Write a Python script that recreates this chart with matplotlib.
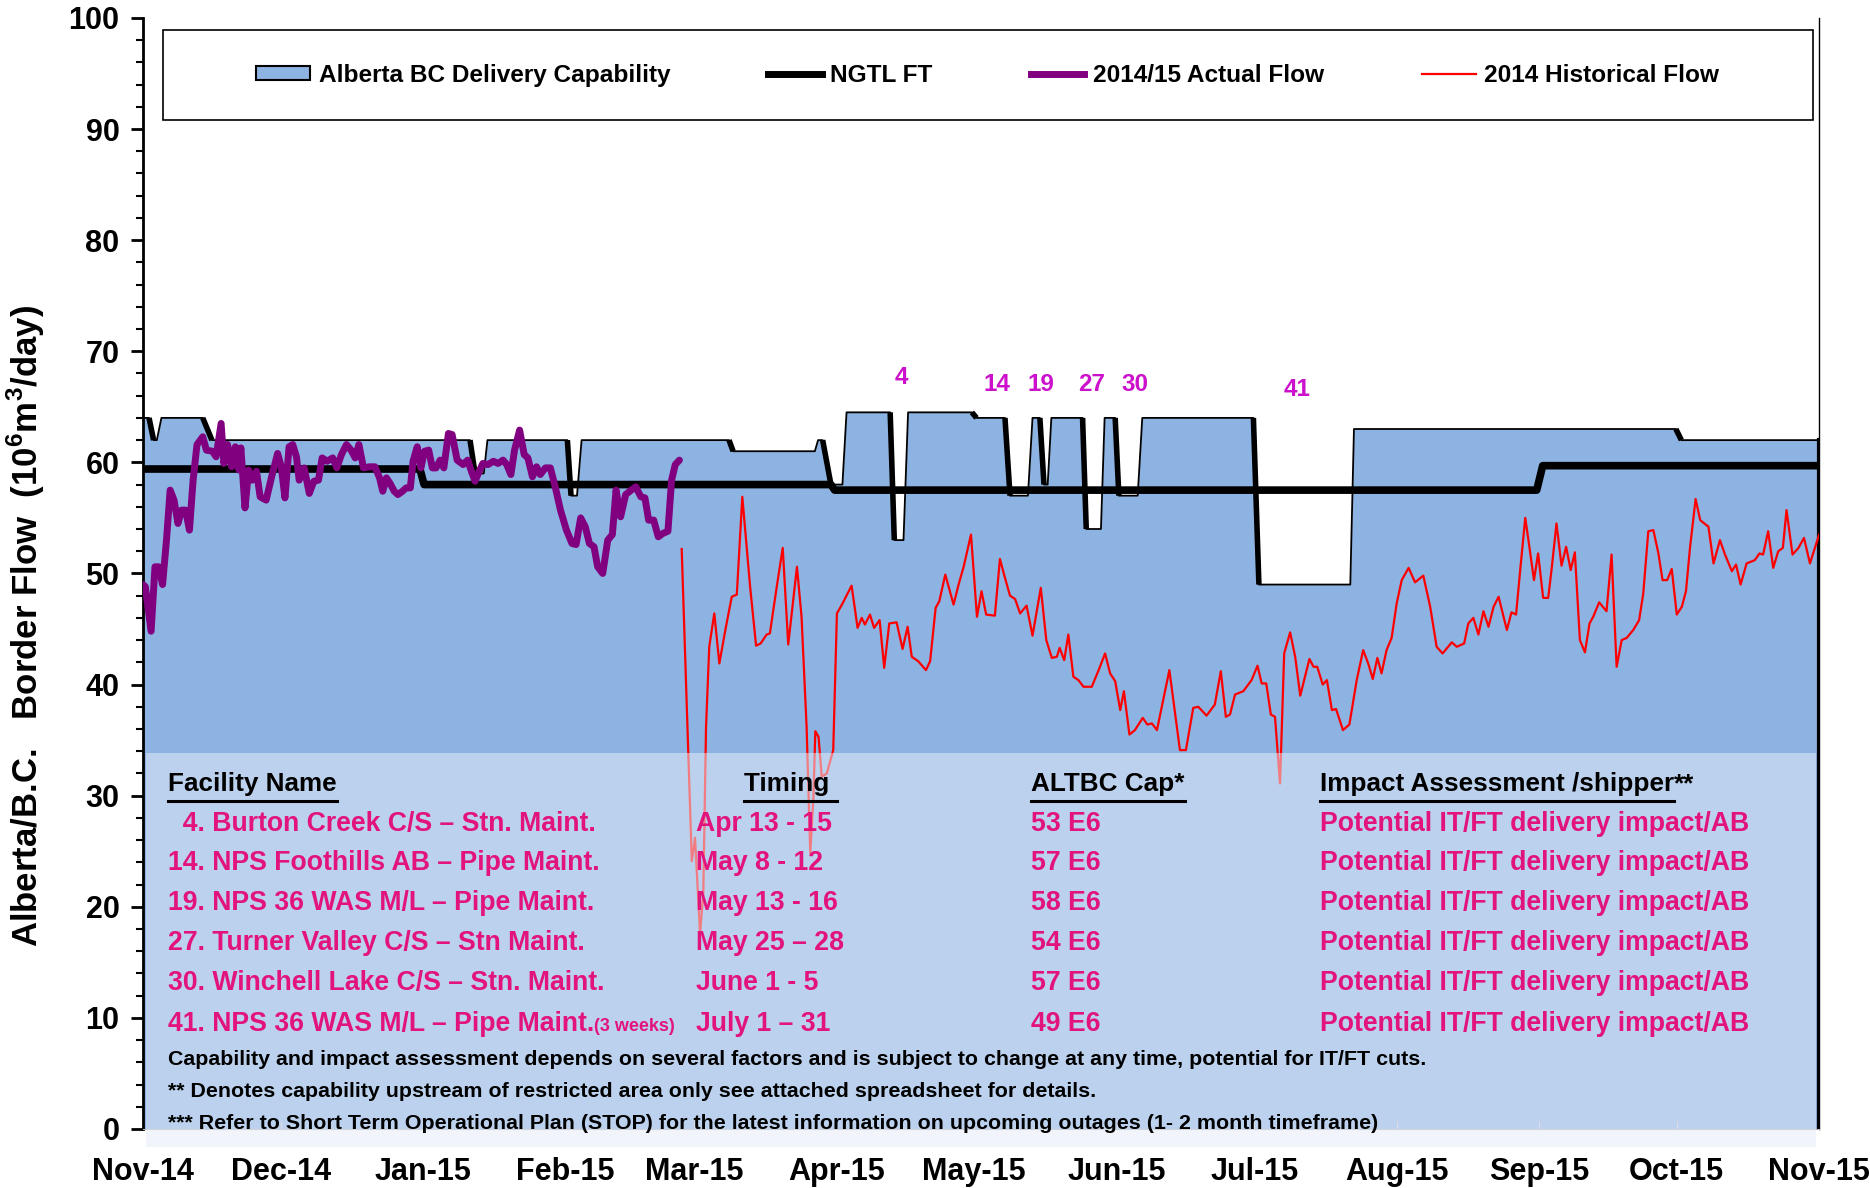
import numpy as np
import pandas as pd
import matplotlib
matplotlib.use('Agg')
import matplotlib.pyplot as plt
import matplotlib.dates as mdates
from matplotlib.patches import Patch, Rectangle
from matplotlib.lines import Line2D
from matplotlib.collections import LineCollection

plt.rcParams['font.family'] = 'Liberation Sans'
plt.rcParams['font.weight'] = 'bold'
plt.rcParams['mathtext.fontset'] = 'custom'
plt.rcParams['mathtext.rm'] = 'Liberation Sans:bold'
plt.rcParams['mathtext.bf'] = 'Liberation Sans:bold'

# days are counted from Nov 1 2014
start = '2014-11-01'

cap_days = [0, 1.3, 2.3, 3.0, 4.0, 13, 15, 71.2, 72.3, 74.2, 75, 92.4, 93.2, 94.5, 95.5,
            127.6, 128.5, 146.3, 147.0, 148.0, 149.8, 152.3, 153.2, 162.7, 163.6, 165.6,
            166.6, 180.5, 181.5, 187.7, 188.8, 192.7, 193.7, 195.3, 196.2, 197.0, 197.8,
            204.6, 205.4, 208.6, 209.4, 211.7, 212.5, 216.6, 217.6, 241.8, 243.0, 262.9,
            263.7, 333.8, 335.0, 365]
cap_vals = [64, 64, 62, 62, 64, 64, 62, 62, 59, 59, 62, 62, 57, 57, 62,
            62, 61, 61, 62, 62, 58, 58, 64.5, 64.5, 53, 53,
            64.5, 64.5, 64, 64, 57, 57, 64, 64, 58, 58, 64,
            64, 54, 54, 64, 64, 57, 57, 64, 64, 49, 49,
            63, 63, 62, 62]

ngtl_days = [0, 60.3, 61.2, 149.8, 150.6, 303.5, 304.8, 365]
ngtl_vals = [59.4, 59.4, 58.0, 58.0, 57.5, 57.5, 59.7, 59.7]

actual_days = [0.0, 0.5, 1.75, 2.6, 3.4, 4.25, 5.1, 5.9, 6.75, 7.6, 8.4, 9.25, 10.1, 10.9,
               11.75, 13.0, 13.8, 15.1, 15.9, 17.0, 17.6, 18.4, 19.3, 20.1, 20.9, 21.3,
               22.2, 23.0, 23.8, 24.7, 25.5, 26.8, 28.0, 29.3, 30.1, 30.9, 31.8, 32.6,
               33.4, 34.0, 35.1, 36.2, 37.2, 38.2, 39.0, 40.1, 41.3, 42.2, 43.2, 44.3,
               45.3, 46.2, 47.0, 48.0, 49.3, 50.5, 51.5, 52.2, 53.0, 53.8, 54.7, 55.5,
               56.5, 57.3, 58.2, 58.8, 59.7, 60.5, 61.3, 62.2, 63.0, 63.8, 64.7, 65.5,
               66.5, 67.3, 68.4, 69.7, 70.7, 71.5, 72.3, 73.2, 74.0, 75.1, 76.3, 77.3,
               78.4, 79.2, 80.1, 80.9, 82.0, 83.0, 83.8, 84.8, 85.7, 86.5, 87.6, 88.7,
               89.7, 90.9, 92.2, 93.4, 94.3, 95.3, 96.3, 97.2, 98.2, 99.0, 100.1, 101.2,
               102.2, 103.0, 104.0, 105.1, 106.3, 107.3, 108.4, 109.3, 110.1, 111.2,
               112.2, 113.2, 114.3, 115.1, 115.9, 116.8]
actual_vals = [49.0, 48.8, 44.8, 50.6, 50.6, 49.0, 53.0, 57.5, 56.6, 54.5, 55.7, 55.7, 53.9, 58.4,
               61.6, 62.3, 61.1, 61.0, 60.5, 63.5, 59.9, 61.6, 59.6, 61.4, 59.3, 61.3,
               55.9, 59.3, 58.4, 59.2, 56.9, 56.6, 58.7, 60.8, 59.6, 56.8, 61.4, 61.6,
               60.5, 58.4, 59.5, 57.2, 58.3, 58.4, 60.4, 60.1, 60.4, 59.5, 60.7, 61.6,
               61.1, 60.4, 61.6, 59.5, 59.6, 59.6, 58.6, 57.4, 58.6, 58.1, 57.4, 57.1,
               57.4, 57.7, 57.7, 60.1, 61.4, 59.5, 61.0, 61.1, 59.5, 59.5, 60.2, 59.5,
               62.6, 62.5, 60.2, 59.8, 60.2, 59.2, 58.3, 59.2, 59.9, 59.8, 60.1, 59.9,
               60.2, 59.8, 58.9, 61.1, 62.9, 60.7, 60.4, 58.7, 59.6, 58.9, 59.5, 59.5,
               57.9, 55.7, 53.9, 52.7, 52.6, 55.0, 54.2, 52.7, 52.4, 50.6, 50.0, 53.0,
               53.5, 57.5, 55.1, 57.1, 57.5, 57.8, 56.9, 56.8, 54.8, 54.8,
               53.3, 53.6, 53.8, 58.4, 59.8, 60.2]

hist_days = [117.3, 118.8, 119.5, 120.2, 121.3, 122.0, 122.6, 123.3, 124.4, 125.5, 126.8,
             128.2, 129.3, 130.5, 132.2, 133.5, 134.5, 135.8, 136.5, 138.0, 139.3, 140.5,
             142.4, 143.4, 144.5, 145.3, 146.0, 146.4, 147.1, 147.8, 148.9, 150.3, 151.1,
             152.2, 154.3, 155.6, 156.5, 157.2, 158.3, 159.2, 160.4, 161.4, 162.5, 164.1,
             165.4, 166.5, 167.4, 168.8, 170.5, 171.4, 172.6, 173.4, 174.7, 176.5, 177.6,
             178.7, 180.3, 181.6, 182.6, 183.6, 185.5, 186.6, 187.7, 188.8, 189.9, 191.0,
             192.4, 193.7, 195.5, 196.7, 197.9, 199.0, 199.6, 200.6, 201.5, 202.6, 203.7,
             204.8, 206.6, 208.1, 209.5, 210.6, 211.7, 212.8, 213.6, 214.8, 216.0, 217.7,
             218.7, 219.7, 220.8, 221.6, 223.5, 225.8, 227.1, 228.7, 229.8, 231.6, 233.4,
             234.7, 235.8, 236.7, 237.8, 239.6, 241.4, 242.7, 243.6, 244.6, 245.6, 246.5,
             247.6, 248.5, 249.8, 250.9, 252.0, 254.0, 254.9, 255.7, 256.9, 257.8, 258.9,
             259.8, 261.3, 262.7, 264.3, 265.7, 266.8, 267.8, 268.8, 269.7, 270.8, 271.9,
             273.0, 274.1, 275.6, 277.0, 278.8, 280.3, 281.7, 283.0, 285.0, 286.1, 287.7,
             288.6, 289.7, 290.8, 291.9, 293.0, 294.1, 295.2, 297.0, 298.0, 299.0, 299.9,
             301.0, 302.0, 302.9, 303.8, 304.9, 306.0, 306.8, 307.8, 308.9, 309.9, 310.9,
             311.8, 312.9, 314.0, 315.0, 315.8, 317.1, 318.7, 319.8, 320.9, 322.0, 323.1,
             324.5, 325.8, 326.7, 327.8, 328.9, 330.0, 330.9, 331.9, 332.9, 334.0, 335.1,
             336.0, 336.9, 338.1, 339.1, 340.9, 342.0, 343.4, 344.5, 346.0, 346.9, 347.9,
             349.2, 351.0, 352.0, 352.8, 353.9, 355.0, 356.1, 357.1, 357.9, 359.2, 360.5,
             361.7, 363.0, 365.0]
hist_vals = [52.2, 33.2, 24.1, 26.2, 17.6, 21.2, 36.2, 43.4, 46.4, 41.9, 44.9,
             47.9, 48.1, 56.9, 48.8, 43.5, 43.7, 44.5, 44.6, 48.8, 52.3, 43.6,
             50.6, 46.1, 36.2, 24.8, 30.0, 35.8, 35.3, 31.7, 32.0, 34.1, 46.4,
             47.2, 48.9, 45.1, 46.0, 45.4, 46.3, 45.1, 45.8, 41.5, 45.5, 45.6,
             43.2, 45.2, 42.5, 42.1, 41.3, 42.1, 46.9, 47.5, 49.9, 47.2, 49.0,
             50.6, 53.5, 46.1, 48.4, 46.3, 46.2, 51.3, 49.6, 48.0, 47.7, 46.4,
             47.1, 44.4, 48.7, 44.0, 42.4, 42.5, 43.3, 42.2, 44.5, 40.7, 40.4,
             39.8, 39.8, 41.3, 42.8, 41.0, 40.3, 37.7, 39.4, 35.5, 35.9, 37.0,
             36.4, 36.5, 35.9, 37.5, 41.3, 34.1, 34.1, 37.9, 38.0, 37.2, 38.2,
             41.2, 37.1, 37.3, 39.1, 39.4, 40.4, 41.7, 40.1, 40.1, 37.3, 37.1,
             31.1, 42.8, 44.7, 42.5, 39.0, 42.3, 41.6, 41.6, 40.0, 40.4, 37.7,
             37.8, 35.9, 36.4, 40.4, 43.1, 41.9, 40.5, 42.4, 41.0, 43.1, 44.2,
             47.3, 49.4, 50.5, 49.2, 49.8, 47.0, 43.4, 42.8, 43.8, 43.4, 43.7,
             45.5, 46.0, 44.5, 46.6, 45.2, 47.0, 47.9, 44.9, 46.5, 46.3, 50.3,
             55.0, 52.1, 49.4, 51.8, 47.8, 47.8, 50.6, 54.5, 50.7, 52.4, 50.3,
             51.9, 44.0, 42.9, 45.5, 46.1, 47.4, 46.6, 51.7, 41.6, 44.0, 44.2,
             44.9, 45.8, 48.2, 53.8, 53.9, 51.8, 49.4, 49.4, 50.4, 46.3, 47.0,
             48.4, 52.4, 56.7, 54.8, 54.2, 50.9, 53.0, 51.7, 50.2, 50.8, 49.0,
             50.9, 51.2, 51.8, 51.7, 53.8, 50.5, 52.0, 52.3, 55.7, 51.7, 52.3,
             53.2, 50.9, 53.5]

outage_ids = ['4', '14', '19', '27', '30', '41']
outage_days = [165.1, 186.0, 195.6, 206.5, 216.0, 251.4]
outage_label_y = [67.6, 67.0, 67.0, 67.0, 67.0, 66.6]

legend_labels = ['Alberta BC Delivery Capability', 'NGTL FT', '2014/15 Actual Flow',
                 '2014 Historical Flow']

headers = ['Facility Name', 'Timing ', 'ALTBC Cap*', 'Impact Assessment /shipper']
facilities = ['  4. Burton Creek C/S \u2013 Stn. Maint.', '14. NPS Foothills AB \u2013 Pipe Maint.',
              '19. NPS 36 WAS M/L \u2013 Pipe Maint.', '27. Turner Valley C/S \u2013 Stn Maint.',
              '30. Winchell Lake C/S \u2013 Stn. Maint.', '41. NPS 36 WAS M/L \u2013 Pipe Maint.']
timings = ['Apr 13 - 15', 'May 8 - 12', 'May 13 - 16', 'May 25 \u2013 28', 'June 1 - 5',
           'July 1 \u2013 31']
caps = ['53 E6', '57 E6', '58 E6', '54 E6', '57 E6', '49 E6']
impacts = ['Potential IT/FT delivery impact/AB'] * 6
notes = ['Capability and impact assessment depends on several factors and is subject to change at any time, potential for IT/FT cuts.',
         '** Denotes capability upstream of restricted area only see attached spreadsheet for details.',
         '*** Refer to Short Term Operational Plan (STOP) for the latest information on upcoming outages (1- 2 month timeframe)']


def to_num(days):
    d = pd.Timestamp(start) + pd.to_timedelta(np.asarray(days, dtype=float), unit='D')
    return mdates.date2num(d.values)


cap_x = to_num(cap_days)
ngtl_x = to_num(ngtl_days)
act_x = to_num(actual_days)
hist_x = to_num(hist_days)

fig = plt.figure(figsize=(18.7, 11.88), dpi=100)
ax = fig.add_axes([0.0765, 0.0497, 0.8963, 0.9352])

cap_color = '#8DB3E2'
ax.fill_between(cap_x, 0, cap_vals, color=cap_color, lw=0, zorder=1)
ax.plot(cap_x, cap_vals, color='k', lw=1.3, zorder=2)
# descending edges of the capability area look heavier in the original
segs = [[(cap_x[i], cap_vals[i]), (cap_x[i + 1], cap_vals[i + 1])]
        for i in range(len(cap_vals) - 1) if cap_vals[i + 1] < cap_vals[i]]
ax.add_collection(LineCollection(segs, colors='k', linewidths=4, zorder=2))
ax.plot([cap_x[-1], cap_x[-1]], [0, cap_vals[-1]], color='k', lw=3, zorder=2)

ax.plot(ngtl_x, ngtl_vals, color='k', lw=5.5, zorder=3)
ax.plot(hist_x, hist_vals, color='red', lw=1.6, zorder=3.5)
ax.plot(act_x, actual_vals, color='#800080', lw=5, zorder=4, solid_capstyle='round')

# pale table panel over the lower part
ax.add_patch(Rectangle((0.0015, -0.016), 0.9965, 0.354, transform=ax.transAxes,
                       facecolor='#E6ECF7', alpha=0.53, lw=0, zorder=5, clip_on=False))

for lab, d, yv in zip(outage_ids, outage_days, outage_label_y):
    ax.text(to_num([d])[0], yv, lab, color='#CC11CC', fontsize=17.5, ha='center',
            va='center', zorder=6)

ax.set_xlim(to_num([0])[0], to_num([365])[0])
ax.set_ylim(0, 100)
ax.xaxis.set_major_locator(mdates.MonthLocator())
ax.xaxis.set_major_formatter(mdates.DateFormatter('%b-%y'))
ax.set_yticks(np.arange(0, 101, 10))
ax.set_yticks(np.arange(0, 101, 2), minor=True)
ax.tick_params(axis='y', which='major', labelsize=22, length=9, width=2, pad=8)
ax.tick_params(axis='y', which='minor', length=5, width=1.5)
ax.tick_params(axis='x', labelsize=22, direction='in', length=6, color='#d0d0d0', pad=20)
ax.spines['top'].set_visible(False)
ax.spines['right'].set_linewidth(1)
ax.spines['left'].set_linewidth(2)
ax.spines['bottom'].set_color('#b8b8b8')

ax.set_ylabel(r'Alberta/B.C.   Border Flow  (10$^{6}$m$^{3}$/day)', fontsize=25,
              fontweight='bold')
ax.yaxis.set_label_coords(-0.0575, 0.453)

# legend box
ax.add_patch(Rectangle((0.0119, 0.908), 0.9845, 0.081, transform=ax.transAxes,
                       facecolor='white', edgecolor='black', lw=1.2, zorder=6))
handles = [Patch(facecolor=cap_color, edgecolor='black', lw=1.5),
           Line2D([], [], color='black', lw=5),
           Line2D([], [], color='#800080', lw=5),
           Line2D([], [], color='red', lw=1.6)]
leg = ax.legend(handles, legend_labels, loc='center', bbox_to_anchor=(0.504, 0.9485),
                ncol=4, frameon=False, fontsize=17.6, handlelength=2.2, handletextpad=0.35,
                columnspacing=4.0, handleheight=0.55)
leg.set_zorder(7)
for t in leg.get_texts():
    t.set_fontweight('bold')

# table text
pink = '#E2137D'
col_x = [0.0149, 0.330, 0.530, 0.7023]
head_x = [0.0149, 0.3586, 0.530, 0.7023]
head_y = 0.3123 - 0.008
row_y = [0.2766, 0.2412, 0.2047, 0.1693, 0.1328, 0.0963]
note_y = [0.0639, 0.0351, 0.0063]

head_texts = []
for hx, h in zip(head_x, headers):
    head_texts.append(ax.text(hx, head_y, h, transform=ax.transAxes, fontsize=18.8,
                              color='black', va='baseline', zorder=8))
row_texts = []
for i, yv in enumerate(row_y):
    for cx, col in zip(col_x, [facilities, timings, caps, impacts]):
        t = ax.text(cx, yv - 0.008, col[i], transform=ax.transAxes, fontsize=19.2,
                    color=pink, va='baseline', zorder=8)
        if cx == col_x[0]:
            row_texts.append(t)
for yv, n in zip(note_y, notes):
    ax.text(col_x[0], yv - 0.006, n, transform=ax.transAxes, fontsize=15.4, color='black',
            va='baseline', zorder=8)

fig.canvas.draw()
renderer = fig.canvas.get_renderer()
inv = ax.transAxes.inverted()
for t in head_texts:
    bb = t.get_window_extent(renderer).transformed(inv)
    ax.plot([bb.x0, bb.x1], [head_y - 0.009, head_y - 0.009], transform=ax.transAxes,
            color='black', lw=2.2, zorder=8, clip_on=False)
bb = head_texts[-1].get_window_extent(renderer).transformed(inv)
ax.text(bb.x1, head_y, '**', transform=ax.transAxes, fontsize=18.8, color='black',
        va='baseline', zorder=8)
bb = row_texts[-1].get_window_extent(renderer).transformed(inv)
ax.text(bb.x1, row_y[-1] - 0.008, '(3 weeks)', transform=ax.transAxes, fontsize=13,
        color=pink, va='baseline', zorder=8)

fig.savefig('out.png', dpi=100)
